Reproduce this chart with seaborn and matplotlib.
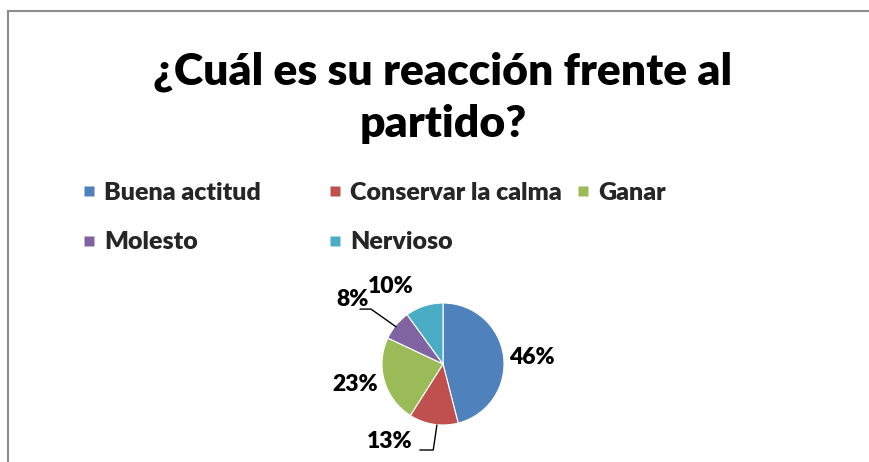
import matplotlib
matplotlib.use("Agg")
import matplotlib.pyplot as plt
from matplotlib.patches import Rectangle
from matplotlib.lines import Line2D
import seaborn as sns

# ///// Data
categories = ["Buena actitud", "Conservar la calma", "Ganar", "Molesto", "Nervioso"]
values = [46, 13, 23, 8, 10]
pct_labels = ["46%", "13%", "23%", "8%", "10%"]
colors = ["#4F81BD", "#C0504D", "#9BBB59", "#8064A2", "#4BACC6"]
title = "¿Cuál es su reacción frente al\npartido?"

sns.set_theme(style="white")
plt.rcParams["font.family"] = ["Lato", "DejaVu Sans"]
WEIGHT = "heavy"

W, H = 869, 462
fig = plt.figure(figsize=(W / 100, H / 100), dpi=100)
fig.patch.set_facecolor("white")

# chart border (left/top visible, the rest runs off the image)
fig.patches.append(Rectangle((8 / W, -0.2), 2, 1 - 11 / H + 0.2, transform=fig.transFigure,
                             fill=False, edgecolor="#8c8c8c", linewidth=1.5, clip_on=False))

# title
fig.text(443 / W, 1 - 98 / H, title, ha="center", va="center", fontsize=32,
         fontweight=WEIGHT, color="black", linespacing=1.36)

# legend, laid out in three columns like the original
handles = [Line2D([], [], linestyle="none", marker="s", markersize=7,
                  markerfacecolor=c, markeredgecolor="none") for c in colors]
cols = [([0, 3], 84), ([1, 4], 330), ([2], 578)]
for idx, xpx in cols:
    ypx = 217.5 if len(idx) == 2 else 193
    leg = fig.legend([handles[i] for i in idx], [categories[i] for i in idx],
                     loc="center left", bbox_to_anchor=(xpx / W, 1 - ypx / H),
                     bbox_transform=fig.transFigure, frameon=False, ncol=1,
                     prop={"weight": WEIGHT, "size": 18}, handlelength=0.4,
                     handletextpad=0.4, labelspacing=1.1,
                     borderpad=0, borderaxespad=0)

# pie
cx, cy, r = 443, 364, 61
ax = fig.add_axes([(cx - r) / W, (H - cy - r) / H, 2 * r / W, 2 * r / H])
wedges, _ = ax.pie(values, colors=colors, startangle=90, counterclock=False,
                   radius=1, wedgeprops={"edgecolor": "white", "linewidth": 0.8})
ax.set_xlim(-1, 1)
ax.set_ylim(-1, 1)
ax.axis("off")

# percentage labels (data units of the pie axes, radius = 1)
label_pos = [(1.45, 0.10), (-0.87, -1.27), (-1.44, -0.33), (-1.49, 1.05), (-0.85, 1.27)]
for (lx, ly), t in zip(label_pos, pct_labels):
    ax.text(lx, ly, t, ha="center", va="center", fontsize=16.5, fontweight=WEIGHT,
            color="black", clip_on=False)

# leader lines for the small slices
ax.plot([-1.36, -1.18, -0.77], [0.90, 0.90, 0.61], color="black", lw=1, clip_on=False)
ax.plot([-0.38, -0.16, -0.10], [-1.41, -1.41, -1.0], color="black", lw=1, clip_on=False)

fig.savefig("out.png", dpi=100, facecolor="white")
